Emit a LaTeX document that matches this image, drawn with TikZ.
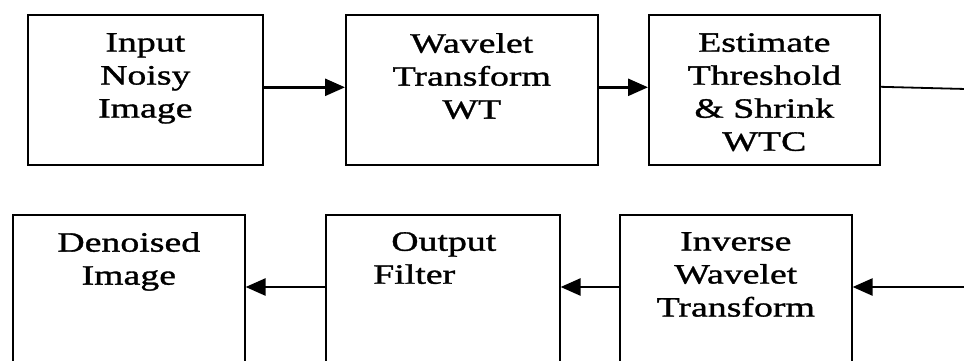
\documentclass[tikz,border=0pt]{standalone}
\usepackage{fontspec}
\setmainfont{Liberation Serif}[FakeStretch=1.35,FakeBold=1.2]
\usetikzlibrary{arrows.meta,positioning}

\tikzset{
    block/.style={draw, line width=1.6pt, anchor=north west, minimum height=#1},
    block/.default=150,
    blocktext/.style={anchor=north, inner sep=0pt, align=center,
        font=\fontsize{28}{33}\selectfont},
    flow/.style={line width=2.6pt, -{Triangle[length=20pt,width=17pt]}}
}

\begin{document}
\begin{tikzpicture}[x=1pt, y=-1pt]

    \useasboundingbox (0,0) rectangle (964,360);
    \clip (0,0) rectangle (964,360);

    % top row
    \node[block, minimum width=235] (input) at (27,14) {};
    \node[block, minimum width=252] (wt) at (345,14) {};
    \node[block, minimum width=231] (shrink) at (648,14) {};

    \node[blocktext, below=19pt of input.north] (input-txt) {Input\\Noisy\\Image};
    \node[blocktext, below=19pt of wt.north] (wt-txt) {Wavelet\\Transform\\WT};
    \node[blocktext, below=19pt of shrink.north] (shrink-txt) {Estimate\\Threshold\\\& Shrink\\WTC};

    % bottom row
    \node[block=180, minimum width=232] (denoised) at (12,214) {};
    \node[block=180, minimum width=234] (filter) at (325,214) {};
    \node[block=180, minimum width=232] (iwt) at (619,214) {};

    \node[blocktext, below=18pt of denoised.north] (denoised-txt) {Denoised\\Image};
    \node[blocktext, align=left, below=18pt of filter.north, xshift=-8pt] (filter-txt)
        {\hspace*{18pt}Output\\Filter};
    \node[blocktext, below=18pt of iwt.north] (iwt-txt) {Inverse\\Wavelet\\Transform};

    \coordinate (top-out) at (966,89);
    \coordinate (bot-in) at (966,287);

    \draw[flow] ([yshift=2.5pt]input.east) -- ([yshift=2.5pt]wt.east -| wt.west);
    \draw[flow] ([yshift=2.5pt]wt.east) -- ([yshift=2.5pt]shrink.east -| shrink.west);
    \draw[line width=1.8pt] ([yshift=3pt]shrink.east) -- (top-out);

    \draw[flow] (bot-in) -- (bot-in -| iwt.east);
    \draw[flow] (bot-in -| iwt.west) -- (bot-in -| filter.east);
    \draw[flow] (bot-in -| filter.west) -- (bot-in -| denoised.east);

\end{tikzpicture}
\end{document}
